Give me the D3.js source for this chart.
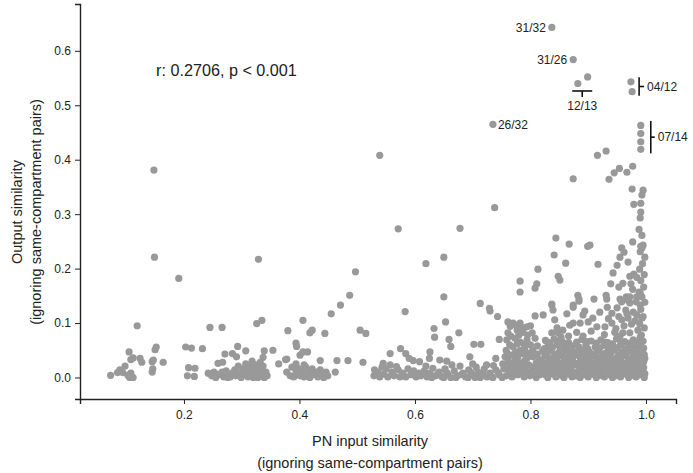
<!DOCTYPE html>
<html><head><meta charset="utf-8">
<script src="https://cdn.jsdelivr.net/npm/d3@7"></script>
<style>
body{margin:0;background:#fff;}
svg{display:block;font-family:"Liberation Sans",Arial,Helvetica,sans-serif;}
</style></head>
<body><svg id="c" width="693" height="473"></svg>
<script>
// ---- data ----
const xTicks = [0.2, 0.4, 0.6, 0.8, 1.0];
const yTicks = [0.0, 0.1, 0.2, 0.3, 0.4, 0.5, 0.6];
const xLabel = ["PN input similarity", "(ignoring same-compartment pairs)"];
const yLabel = ["Output similarity", "(ignoring same-compartment pairs)"];
const statText = "r: 0.2706, p < 0.001";

// labelled pairs
const labelNames = ["31/32", "31/26", "12/13", "04/12", "07/14", "26/32"];
const labelGroups = [
  [[0.837, 0.643]],
  [[0.874, 0.584]],
  [[0.882, 0.540], [0.899, 0.552]],
  [[0.974, 0.543], [0.976, 0.525]],
  [[0.991, 0.463], [0.991, 0.448], [0.991, 0.433], [0.991, 0.419]],
  [[0.735, 0.465]]
];

// low input similarity points (x < 0.2)
const ptsA = [[0.073,0.004],[0.085,0.009],[0.089,0.014],[0.094,0.009],[0.098,0.021],[0.103,0.004],[0.106,0.000],[0.108,0.008],[0.109,0.001],[0.112,0.000],[0.105,0.047],[0.108,0.033],[0.112,0.036],[0.124,0.035],[0.127,0.028],[0.119,0.095],[0.145,0.029],[0.147,0.032],[0.150,0.051],[0.152,0.056],[0.145,0.010],[0.146,0.016],[0.164,0.028],[0.148,0.381],[0.149,0.221],[0.191,0.182]];

// 0.2 - 0.35
const ptsB = [[0.245,0.092],[0.266,0.092],[0.203,0.056],[0.213,0.054],[0.232,0.053],[0.208,0.018],[0.219,0.017],[0.206,0.003],[0.218,0.002],[0.242,0.008],[0.271,0.043],[0.293,0.057],[0.307,0.049],[0.284,0.044],[0.291,0.038],[0.267,0.028],[0.259,0.026],
[0.248,0.003],[0.255,0.000],[0.262,0.005],[0.269,0.001],[0.273,0.012],[0.280,0.001],[0.283,0.008],[0.288,0.014],[0.290,0.003],[0.294,0.021],[0.297,0.008],[0.299,0.000],[0.302,0.016],[0.304,0.005],[0.307,0.025],[0.309,0.012],[0.311,0.001],[0.314,0.019],[0.316,0.006],[0.318,0.030],[0.320,0.000],[0.321,0.014],[0.323,0.023],[0.325,0.005],[0.327,0.010],[0.328,0.000],[0.330,0.017],[0.332,0.028],[0.333,0.005],[0.335,0.012],[0.337,0.021],[0.339,0.000],[0.342,0.010],[0.344,0.003],[0.276,0.000],[0.266,0.010],[0.252,0.010],[0.259,0.006],
[0.326,0.099],[0.335,0.105],[0.329,0.217],[0.339,0.049],[0.354,0.050],[0.337,0.037],[0.364,0.025],[0.376,0.033]];

// 0.35 - 0.53
const ptsC = [[0.380,0.086],[0.406,0.105],[0.418,0.082],[0.422,0.087],[0.444,0.081],[0.455,0.117],[0.471,0.133],[0.487,0.151],[0.497,0.194],[0.539,0.408],[0.505,0.087],[0.515,0.081],[0.394,0.063],[0.395,0.057],[0.406,0.047],[0.414,0.047],[0.401,0.041],[0.436,0.031],[0.465,0.031],[0.484,0.031],[0.510,0.028],[0.378,0.034],[0.462,0.010],
[0.378,0.010],[0.384,0.003],[0.387,0.019],[0.390,0.001],[0.394,0.010],[0.397,0.017],[0.401,0.003],[0.404,0.012],[0.408,0.001],[0.411,0.019],[0.415,0.008],[0.418,0.000],[0.422,0.016],[0.425,0.005],[0.429,0.010],[0.432,0.001],[0.436,0.014],[0.439,0.006],[0.442,0.000],[0.446,0.010],[0.449,0.003],[0.394,0.025],[0.408,0.023]];

// 0.53 - 0.75
const ptsD = [[0.557,0.044],[0.575,0.053],[0.584,0.044],[0.590,0.035],[0.597,0.031],[0.583,0.121],[0.571,0.273],[0.678,0.274],[0.619,0.209],[0.650,0.221],[0.650,0.148],[0.545,0.026],[0.557,0.023],[0.568,0.020],
[0.529,0.003],[0.536,0.010],[0.539,0.001],[0.546,0.006],[0.550,0.016],[0.553,0.001],[0.560,0.010],[0.564,0.003],[0.571,0.014],[0.574,0.001],[0.579,0.008],[0.584,0.001],[0.588,0.016],[0.593,0.005],[0.598,0.012],[0.602,0.001],[0.607,0.008],[0.543,0.019],[0.530,0.014],
[0.626,0.047],[0.625,0.035],[0.643,0.032],[0.608,0.029],[0.695,0.038],[0.740,0.035],[0.724,0.023],
[0.633,0.090],[0.634,0.074],[0.653,0.102],[0.676,0.082],[0.659,0.070],[0.662,0.057],[0.702,0.061],[0.714,0.061],[0.746,0.070],
[0.713,0.136],[0.729,0.127],[0.730,0.122],[0.743,0.112],[0.738,0.312],
[0.610,0.003],[0.616,0.012],[0.621,0.001],[0.626,0.008],[0.631,0.017],[0.636,0.003],[0.642,0.010],[0.647,0.001],[0.652,0.016],[0.657,0.006],[0.662,0.000],[0.668,0.012],[0.673,0.003],[0.678,0.021],[0.683,0.008],[0.688,0.001],[0.693,0.014],[0.699,0.005],[0.704,0.000],[0.709,0.010],[0.714,0.003],[0.720,0.016],[0.725,0.001],[0.730,0.008],[0.735,0.000],[0.740,0.014],[0.746,0.005],[0.751,0.000],[0.629,0.000],[0.650,0.000],[0.671,0.000],[0.692,0.000],[0.713,0.000],[0.733,0.001],[0.619,0.021],[0.664,0.023],[0.706,0.019],
[0.613,0.007],[0.639,0.006],[0.655,0.009],[0.680,0.005],[0.697,0.009],[0.718,0.007],[0.744,0.009],[0.700,0.025],[0.655,0.030],[0.736,0.022]];

// 0.75 - 0.82
const ptsE = [[0.761,0.102],[0.770,0.100],[0.782,0.100],[0.794,0.093],[0.808,0.113],[0.761,0.082],[0.777,0.087],[0.787,0.083],[0.803,0.082],[0.759,0.069],[0.773,0.072],[0.782,0.065],[0.794,0.069],[0.808,0.072],[0.758,0.050],[0.770,0.056],[0.782,0.050],[0.790,0.054],[0.804,0.050],[0.756,0.038],[0.768,0.041],[0.778,0.038],[0.794,0.036],[0.804,0.038],[0.752,0.025],[0.763,0.028],[0.773,0.025],[0.784,0.027],[0.797,0.023],[0.810,0.027],[0.754,0.016],[0.764,0.012],[0.775,0.017],[0.785,0.014],[0.796,0.010],[0.806,0.016],[0.815,0.012],[0.758,0.003],[0.768,0.001],[0.778,0.005],[0.789,0.001],[0.799,0.003],[0.810,0.000],[0.816,0.005],
[0.782,0.177],[0.782,0.157],[0.811,0.172],[0.808,0.164],[0.813,0.199],
[0.765,0.094],[0.776,0.095],[0.788,0.091],[0.800,0.095],[0.766,0.076],[0.780,0.078],[0.795,0.078],[0.764,0.060],[0.777,0.062],[0.789,0.061],[0.800,0.060],[0.812,0.058],[0.760,0.044],[0.774,0.046],[0.787,0.044],[0.798,0.045],[0.812,0.043],[0.761,0.032],[0.774,0.032],[0.790,0.031],[0.815,0.033],[0.759,0.021],[0.770,0.019],[0.780,0.021],[0.791,0.020],[0.803,0.019],[0.763,0.007],[0.773,0.009],[0.783,0.008],[0.794,0.007],[0.805,0.008],[0.813,0.021]];

// 0.82 - 1.0, upper
const ptsF = [[0.916,0.408],[0.931,0.416],[0.874,0.365],[0.936,0.364],[0.945,0.376],[0.954,0.384],[0.967,0.377],[0.977,0.388],
[0.976,0.346],[0.995,0.344],[0.993,0.335],[0.979,0.318],[0.991,0.320],[0.991,0.304],[0.990,0.293],[0.988,0.272],[0.993,0.261],[0.977,0.249],[0.991,0.241],[0.995,0.243],[0.993,0.238],
[0.844,0.256],[0.867,0.245],[0.899,0.241],[0.903,0.243],[0.841,0.225],[0.861,0.210],[0.917,0.208],[0.848,0.186],[0.851,0.179],
[0.882,0.151],[0.884,0.144],[0.910,0.144],[0.931,0.151],[0.932,0.144],
[0.958,0.238],[0.962,0.230],[0.955,0.221],[0.969,0.212],[0.950,0.206],[0.943,0.192],[0.972,0.186],[0.979,0.190],[0.984,0.184],
[0.939,0.172],[0.953,0.166],[0.960,0.173],[0.974,0.172],[0.977,0.162],[0.955,0.144],[0.966,0.148],[0.972,0.148],[0.984,0.148],[0.990,0.155],
[0.837,0.135],[0.874,0.133],[0.837,0.133],[0.839,0.124],[0.874,0.129],[0.884,0.140],[0.933,0.129],[0.958,0.139],[0.972,0.137],[0.990,0.133],
[0.822,0.115],[0.842,0.106],[0.863,0.117],[0.891,0.115],
[0.846,0.091],[0.856,0.087],[0.868,0.096],[0.874,0.100],[0.886,0.100],[0.900,0.102],[0.915,0.093],[0.929,0.093],[0.941,0.100],[0.958,0.106],[0.969,0.109],[0.984,0.115],[0.993,0.109],
[0.837,0.082],[0.848,0.082],[0.891,0.076],[0.946,0.083],[0.955,0.076],[0.960,0.082],[0.972,0.082],[0.986,0.087],[0.990,0.074],[0.995,0.067],
[0.969,0.142],[0.983,0.139],[0.965,0.124],[0.978,0.120],[0.950,0.128],[0.941,0.118],[0.920,0.120],[0.908,0.109],[0.894,0.122],
[0.992,0.078],[0.997,0.091],[0.989,0.099],[0.995,0.112],[0.991,0.125],[0.998,0.138],[0.993,0.148],[0.988,0.157],[0.996,0.166],[0.991,0.178],[0.997,0.189],[0.989,0.199],[0.994,0.209],[0.998,0.221],[0.990,0.231],
[0.948,0.090],[0.962,0.095],[0.975,0.098],[0.981,0.104],[0.953,0.112],[0.967,0.117],[0.935,0.108],[0.928,0.079],[0.905,0.085],[0.880,0.083],[0.866,0.076],[0.853,0.074]];

// 0.82 - 1.0, dense low band
const ptsG = [[0.826,0.068],[0.841,0.071],[0.855,0.066],[0.866,0.064],[0.889,0.070],[0.905,0.067],[0.922,0.069],[0.934,0.064],[0.949,0.071],[0.963,0.066],[0.978,0.069],[0.991,0.062],
[0.830,0.057],[0.846,0.060],[0.857,0.055],[0.873,0.058],[0.896,0.061],[0.912,0.056],[0.927,0.059],[0.941,0.055],[0.956,0.060],[0.969,0.057],[0.983,0.059],[0.996,0.054],
[0.821,0.048],[0.835,0.050],[0.848,0.045],[0.861,0.049],[0.877,0.046],[0.889,0.051],[0.902,0.047],[0.918,0.049],[0.930,0.045],[0.944,0.050],[0.959,0.046],[0.971,0.049],[0.985,0.045],[0.994,0.048],
[0.825,0.039],[0.839,0.036],[0.852,0.040],[0.866,0.037],[0.880,0.041],[0.894,0.038],[0.908,0.040],[0.921,0.036],[0.936,0.039],[0.950,0.037],[0.963,0.041],[0.977,0.038],[0.990,0.040],
[0.819,0.030],[0.831,0.028],[0.845,0.031],[0.858,0.029],[0.872,0.032],[0.884,0.027],[0.899,0.030],[0.913,0.028],[0.926,0.031],[0.940,0.029],[0.953,0.032],[0.967,0.027],[0.981,0.030],[0.996,0.029],
[0.823,0.021],[0.837,0.019],[0.850,0.022],[0.863,0.020],[0.876,0.023],[0.891,0.018],[0.904,0.021],[0.917,0.020],[0.932,0.022],[0.945,0.019],[0.958,0.022],[0.972,0.020],[0.986,0.021],
[0.820,0.013],[0.833,0.011],[0.847,0.014],[0.860,0.012],[0.870,0.015],[0.882,0.011],[0.896,0.013],[0.910,0.012],[0.923,0.014],[0.937,0.011],[0.951,0.013],[0.965,0.012],[0.979,0.014],[0.993,0.011],
[0.826,0.005],[0.840,0.006],[0.853,0.004],[0.867,0.006],[0.879,0.003],[0.893,0.005],[0.907,0.006],[0.920,0.004],[0.934,0.005],[0.947,0.003],[0.961,0.006],[0.975,0.004],[0.988,0.005],
[0.830,0.000],[0.844,0.001],[0.858,0.000],[0.872,0.001],[0.886,0.000],[0.900,0.001],[0.914,0.000],[0.928,0.001],[0.942,0.000],[0.956,0.001],[0.970,0.000],[0.983,0.001],[0.997,0.000],
[0.834,0.064],[0.848,0.066],[0.861,0.062],[0.880,0.065],[0.898,0.066],[0.914,0.063],[0.929,0.065],[0.942,0.062],[0.957,0.065],[0.972,0.063],[0.986,0.066],
[0.824,0.053],[0.838,0.055],[0.852,0.052],[0.868,0.054],[0.884,0.056],[0.899,0.053],[0.920,0.054],[0.935,0.052],[0.951,0.055],[0.964,0.052],[0.978,0.054],[0.990,0.052],
[0.829,0.044],[0.842,0.042],[0.856,0.044],[0.870,0.043],[0.885,0.044],[0.896,0.042],[0.912,0.044],[0.925,0.042],[0.939,0.044],[0.953,0.042],[0.966,0.044],[0.980,0.043],[0.997,0.042],
[0.832,0.033],[0.846,0.035],[0.859,0.033],[0.873,0.035],[0.887,0.034],[0.902,0.034],[0.915,0.033],[0.929,0.035],[0.944,0.033],[0.957,0.035],[0.970,0.033],[0.985,0.034],[0.998,0.035],
[0.827,0.025],[0.841,0.024],[0.854,0.026],[0.867,0.024],[0.881,0.025],[0.894,0.024],[0.909,0.025],[0.922,0.024],[0.936,0.026],[0.949,0.024],[0.963,0.025],[0.976,0.024],[0.991,0.025],
[0.829,0.017],[0.843,0.016],[0.856,0.017],[0.869,0.018],[0.886,0.016],[0.900,0.017],[0.913,0.016],[0.927,0.017],[0.941,0.016],[0.955,0.017],[0.968,0.016],[0.982,0.017],[0.996,0.018],
[0.823,0.008],[0.836,0.009],[0.850,0.008],[0.864,0.009],[0.876,0.008],[0.889,0.009],[0.903,0.008],[0.916,0.009],[0.930,0.008],[0.944,0.009],[0.957,0.008],[0.970,0.009],[0.984,0.008],[0.998,0.007]];

// ---- drawing ----
const svg = d3.select("#c");
const x = d3.scaleLinear().domain([0.02, 1.052]).range([80, 676]);
const y = d3.scaleLinear().domain([-0.0395, 0.686]).range([399, 4]);
const dotColor = "#999999";
const ink = "#222";

const allPts = [].concat(ptsA, ptsB, ptsC, ptsD, ptsE, ptsF, ptsG, ...labelGroups);
svg.append("g").selectAll("circle").data(allPts).join("circle")
  .attr("cx", d => x(d[0])).attr("cy", d => y(d[1])).attr("r", 3.6)
  .attr("fill", dotColor);

const gx = svg.append("g").attr("transform", `translate(0,${y.range()[0]})`)
  .call(d3.axisBottom(x).tickValues(xTicks).tickFormat(d3.format(".1f")).tickSizeOuter(0).tickSize(5).tickPadding(6));
const gy = svg.append("g").attr("transform", `translate(${x.range()[0]},0)`)
  .call(d3.axisLeft(y).tickValues(yTicks).tickFormat(d3.format(".1f")).tickSizeOuter(0).tickSize(5).tickPadding(4));
[gx, gy].forEach(g => {
  g.selectAll("path.domain").attr("stroke", ink).attr("stroke-width", 1.4);
  g.selectAll(".tick line").attr("stroke", ink).attr("stroke-width", 1);
  g.selectAll(".tick text").attr("fill", ink).attr("font-size", 12).attr("font-family", "Liberation Sans, Arial, sans-serif");
});

// axis titles
svg.append("text").attr("x", 370).attr("y", 446).attr("text-anchor", "middle")
  .attr("font-size", 14.5).attr("fill", ink).text(xLabel[0]);
svg.append("text").attr("x", 370).attr("y", 468).attr("text-anchor", "middle")
  .attr("font-size", 14.5).attr("fill", ink).text(xLabel[1]);
svg.append("text").attr("transform", "translate(22,212) rotate(-90)").attr("text-anchor", "middle")
  .attr("font-size", 14.5).attr("fill", ink).text(yLabel[0]);
svg.append("text").attr("transform", "translate(41,212) rotate(-90)").attr("text-anchor", "middle")
  .attr("font-size", 14.5).attr("fill", ink).text(yLabel[1]);

svg.append("text").attr("x", 156).attr("y", 76).attr("font-size", 16.2).attr("fill", ink).text(statText);

// annotations
const ann = svg.append("g").attr("font-size", 12).attr("fill", ink);
const line = (x1, y1, x2, y2) => ann.append("line").attr("x1", x1).attr("y1", y1).attr("x2", x2).attr("y2", y2)
  .attr("stroke", "#111").attr("stroke-width", 1.6);
// 31/32 and 31/26: text left of point
[0, 1].forEach(i => {
  const p = labelGroups[i][0];
  ann.append("text").attr("x", x(p[0]) - 6).attr("y", y(p[1])).attr("dy", "0.35em")
    .attr("text-anchor", "end").text(labelNames[i]);
});
// 26/32: text right of point
{
  const p = labelGroups[5][0];
  ann.append("text").attr("x", x(p[0]) + 5).attr("y", y(p[1])).attr("dy", "0.35em").text(labelNames[5]);
}
// 12/13: horizontal bracket below
{
  const g = labelGroups[2];
  const xs = g.map(d => x(d[0])), ys = g.map(d => y(d[1]));
  const xm = (d3.min(xs) + d3.max(xs)) / 2 - 0.5;
  const yb = d3.max(ys) + 7.5;
  line(xm - 10, yb, xm + 10, yb);
  line(xm, yb, xm, yb + 6);
  ann.append("text").attr("x", xm).attr("y", yb + 19.5).attr("text-anchor", "middle").text(labelNames[2]);
}
// vertical brackets: 04/12, 07/14
[[3, 7, 5], [4, 10, 4]].forEach(([i, off, pad]) => {
  const g = labelGroups[i];
  const xs = g.map(d => x(d[0])), ys = g.map(d => y(d[1]));
  const xb = d3.max(xs) + off;
  const y0 = d3.min(ys) - 4.5, y1 = d3.max(ys) + 4;
  const ym = (y0 + y1) / 2;
  line(xb, y0, xb, y1);
  line(xb, ym, xb + pad, ym);
  ann.append("text").attr("x", xb + pad + 3).attr("y", ym).attr("dy", "0.35em").text(labelNames[i]);
});
</script></body></html>
